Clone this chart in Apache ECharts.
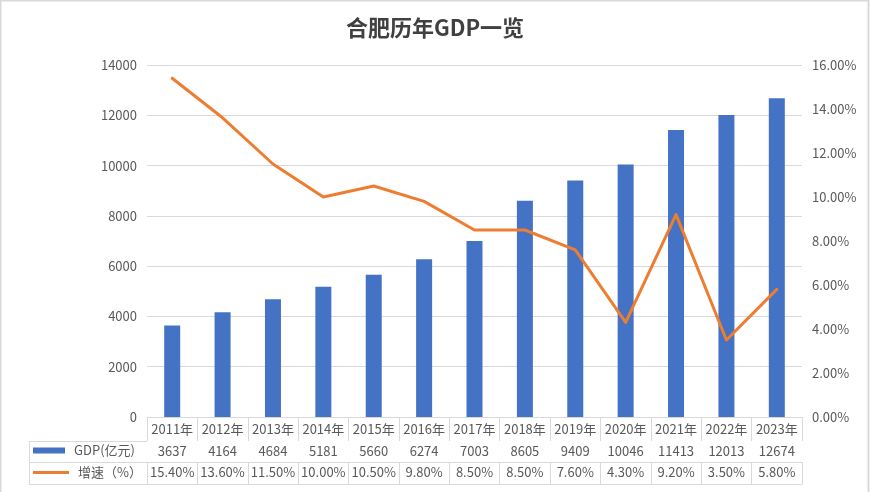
<!DOCTYPE html>
<html><head><meta charset="utf-8">
<script src="https://cdn.jsdelivr.net/npm/echarts@6/dist/echarts.min.js"></script>
<style>html,body{margin:0;padding:0;background:#fff}#c{width:870px;height:492px}</style>
</head><body><div id="c"></div>
<script>
const years = ['2011年','2012年','2013年','2014年','2015年','2016年','2017年','2018年','2019年','2020年','2021年','2022年','2023年'];
const gdp = [3637,4164,4684,5181,5660,6274,7003,8605,9409,10046,11413,12013,12674];
const growth = [15.40,13.60,11.50,10.00,10.50,9.80,8.50,8.50,7.60,4.30,9.20,3.50,5.80];
const gdpTicks = [0,2000,4000,6000,8000,10000,12000,14000];
const growthTicks = [0,2,4,6,8,10,12,14,16];

const FONT = '"Noto Sans CJK SC","Noto Sans",sans-serif';
const TXT = '#595959';
const GRID = '#D9D9D9';
const L = 147, R = 802, T = 65, B = 417, W = 870;
const rowTops = [417, 441, 462, 484];

const chart = echarts.init(document.getElementById('c'));
function tableAxis(data, offset, tickLen, showLabel, margin) {
  return {
    type: 'category', data: data, position: 'bottom', offset: offset, gridIndex: 0,
    boundaryGap: true,
    axisLine: {show: true, lineStyle: {color: GRID, width: 1}},
    axisTick: {show: tickLen > 0, length: tickLen, lineStyle: {color: GRID}, interval: 0},
    axisLabel: {show: showLabel, interval: 0, color: TXT, fontSize: 13, fontFamily: FONT, margin: margin},
    splitLine: {show: false}
  };
}
const legendText = {color: TXT, fontSize: 13, fontFamily: FONT, padding: [0,0,0,4]};
const option = {
  backgroundColor: '#fff',
  animation: false,
  title: {
    text: '合肥历年GDP一览', left: 'center', top: 12,
    textStyle: {fontSize: 22, fontWeight: 'bold', color: '#404040', fontFamily: FONT}
  },
  legend: [
    {
      left: 33, top: 444, padding: 0,
      itemWidth: 32, itemHeight: 6, textStyle: legendText,
      data: [{name: 'GDP(亿元)', icon: 'rect'}]
    },
    {
      left: 33, top: 466, padding: 0,
      itemWidth: 36, itemHeight: 3, textStyle: legendText,
      data: [{name: '增速（%）', icon: 'rect'}]
    }
  ],
  grid: {left: L, right: W - R, top: T, bottom: 492 - B, containLabel: false},
  xAxis: [
    tableAxis(years, 0, 24, true, 6),
    tableAxis(gdp.map(String), 24, 21, true, 4),
    tableAxis(growth.map(v => v.toFixed(2) + '%'), 45, 22, true, 4),
    tableAxis(years.map(() => ''), 67, 0, false, 0)
  ],
  yAxis: [
    {
      type: 'value', min: gdpTicks[0], max: gdpTicks[gdpTicks.length - 1], interval: 2000,
      axisLine: {show: false}, axisTick: {show: false},
      axisLabel: {color: TXT, fontSize: 13, fontFamily: FONT, margin: 10, formatter: v => String(v)},
      splitLine: {show: true, lineStyle: {color: GRID, width: 1}}
    },
    {
      type: 'value', min: growthTicks[0], max: growthTicks[growthTicks.length - 1], interval: 2,
      position: 'right',
      axisLine: {show: false}, axisTick: {show: false},
      axisLabel: {color: TXT, fontSize: 13, fontFamily: FONT, margin: 10, formatter: v => v.toFixed(2) + '%'},
      splitLine: {show: false}
    }
  ],
  series: [
    {
      name: 'GDP(亿元)', type: 'bar', data: gdp, xAxisIndex: 0, yAxisIndex: 0,
      barWidth: 16, itemStyle: {color: '#4472C4'}
    },
    {
      name: '增速（%）', type: 'line', data: growth, xAxisIndex: 0, yAxisIndex: 1,
      symbol: 'none', lineStyle: {color: '#ED7D31', width: 3, cap: 'round', join: 'round'},
      itemStyle: {color: '#ED7D31'}
    }
  ],
  graphic: [
    {type: 'rect', silent: true, z: -10, shape: {x: 0.5, y: 0.5, width: 868, height: 500},
     style: {fill: null, stroke: GRID, lineWidth: 2}},
    {type: 'line', silent: true, shape: {x1: 29, y1: rowTops[1] + 0.5, x2: L, y2: rowTops[1] + 0.5}, style: {stroke: GRID, lineWidth: 1}},
    {type: 'line', silent: true, shape: {x1: 29, y1: rowTops[2] + 0.5, x2: L, y2: rowTops[2] + 0.5}, style: {stroke: GRID, lineWidth: 1}},
    {type: 'line', silent: true, shape: {x1: 29, y1: rowTops[3] + 0.5, x2: L, y2: rowTops[3] + 0.5}, style: {stroke: GRID, lineWidth: 1}},
    {type: 'line', silent: true, shape: {x1: 29.5, y1: rowTops[1], x2: 29.5, y2: rowTops[3]}, style: {stroke: GRID, lineWidth: 1}}
  ]
};
chart.setOption(option);
</script></body></html>
